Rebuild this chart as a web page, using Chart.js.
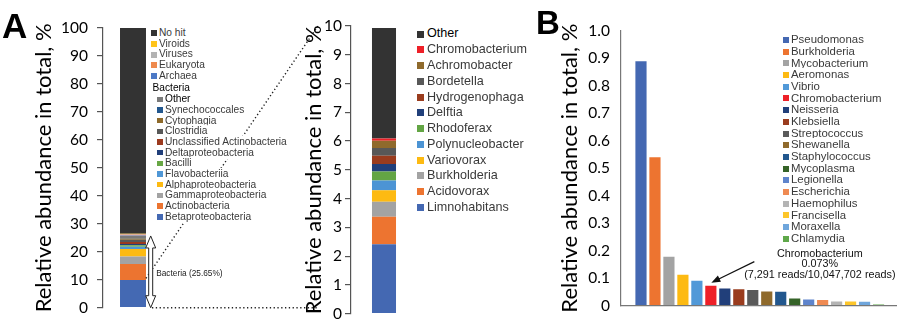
<!DOCTYPE html>
<html>
<head>
<meta charset="utf-8">
<script src="https://cdn.jsdelivr.net/npm/chart.js@4.4.1/dist/chart.umd.min.js"></script>
<style>
  body { margin: 0; background: #fff; }
  #wrap { position: relative; width: 900px; height: 326px; overflow: hidden; font-family: "Liberation Sans", Arial, sans-serif; }
  canvas { position: absolute; top: 0; }
  .letter { position: absolute; font-weight: bold; color: #000; line-height: 1; }
</style>
</head>
<body>
<div id="wrap">
  <canvas id="totalChart" width="330" height="326" style="left:0"></canvas>
  <canvas id="genusChart" width="140" height="326" style="left:280px"></canvas>
  <canvas id="pathogenChart" width="400" height="326" style="left:500px"></canvas>
  <div class="letter" style="left:2px;top:8px;font-size:35px">A</div>
  <div class="letter" style="left:536px;top:6px;font-size:33px">B</div>
</div>
<script>
// panel A, whole sample (stack order bottom -> top)
const bacteriaNames = ["Betaproteobacteria", "Actinobacteria", "Gammaproteobacteria", "Alphaproteobacteria",
  "Flavobacteriia", "Bacilli", "Deltaproteobacteria", "Unclassified Actinobacteria", "Clostridia",
  "Cytophagia", "Synechococcales", "Other"];
const bacteriaValues = [9.9, 5.7, 2.7, 2.65, 0.85, 0.55, 0.45, 0.7, 0.8, 0.4, 0.25, 0.7];
const bacteriaTotal = 25.65;
const kingdomNames = ["Archaea", "Eukaryota", "Viruses", "Viroids", "No hit"];
const kingdomValues = [0.15, 0.35, 0.2, 0.05, 73.6];
const totalTicks = [0, 10, 20, 30, 40, 50, 60, 70, 80, 90, 100];

// panel A, zoom 0-10 %
const genusNames = ["Limnohabitans", "Acidovorax", "Burkholderia", "Variovorax", "Polynucleobacter",
  "Rhodoferax", "Delftia", "Hydrogenophaga", "Bordetella", "Achromobacter", "Chromobacterium", "Other"];
const genusValues = [2.41, 0.96, 0.52, 0.40, 0.34, 0.31, 0.26, 0.29, 0.27, 0.25, 0.08, 3.84];
const genusTicks = [0, 1, 2, 3, 4, 5, 6, 7, 8, 9, 10];

// panel B
const pathogenNames = ["Pseudomonas", "Burkholderia", "Mycobacterium", "Aeromonas", "Vibrio", "Chromobacterium",
  "Neisseria", "Klebsiella", "Streptococcus", "Shewanella", "Staphylococcus", "Mycoplasma", "Legionella",
  "Escherichia", "Haemophilus", "Francisella", "Moraxella", "Chlamydia"];
const pathogenValues = [0.889, 0.540, 0.178, 0.113, 0.091, 0.073, 0.063, 0.060, 0.057, 0.052, 0.051,
  0.026, 0.023, 0.021, 0.015, 0.015, 0.014, 0.004];
const pathogenTickLabels = ["0", "0.1", "0.2", "0.3", "0.4", "0.5", "0.6", "0.7", "0.8", "0.9", "1.0"];
const noteLines = ["Chromobacterium", "0.073%", "(7,291 reads/10,047,702 reads)"];

// colours
const bacteriaColors = ["#4469B3", "#EC7430", "#A3A3A3", "#FDBA12", "#4F97D6", "#67A744", "#213F7A",
  "#9C3A1E", "#585858", "#8E6A2A", "#22578E", "#7A7A7A"];
const kingdomColors = ["#4C79C6", "#EE8A4E", "#B3B3B3", "#FFC41A", "#333333"];
const genusColors = ["#4468B2", "#ED7430", "#A3A3A3", "#FDBA12", "#4C94D4", "#63A544", "#213F7A",
  "#9A3C1E", "#585858", "#8F6A2C", "#EE2028", "#333333"];
const pathogenColors = ["#4468B2", "#ED7430", "#A3A3A3", "#FDBA12", "#5199D8", "#EE2028", "#213F7A",
  "#9A3C1E", "#5A5A5A", "#8F6A2C", "#22578E", "#356328", "#5E84CC", "#EF8A52", "#B4B4B4", "#FDC62A",
  "#6FA6DC", "#5FA84A"];

const AXIS_INK = "#555";
const TICK_FONT = { family: "Lato", size: 15.5 };
const TITLE_FONT = { family: "Lato", size: 22 };

function stackedSets(names, values, colors) {
  return names.map((name, i) => ({ label: name, data: [values[i]], backgroundColor: colors[i] }));
}

function leftAxis(tickValues, fmt, width, titlePad, labelPad, tickLen) {
  return {
    stacked: true,
    min: tickValues[0],
    max: tickValues[tickValues.length - 1],
    afterBuildTicks: (scale) => { scale.ticks = tickValues.map((v) => ({ value: v })); },
    afterFit: (scale) => { scale.width = width; },
    ticks: { font: TICK_FONT, color: "#000", padding: labelPad, callback: fmt, autoSkip: false },
    grid: { drawOnChartArea: false, drawTicks: tickLen > 0, tickLength: tickLen, color: AXIS_INK, lineWidth: 1.2 },
    border: { color: AXIS_INK, width: 1.2 },
    title: { display: true, text: "Relative abundance in total, %", font: TITLE_FONT, color: "#000", padding: { top: titlePad, bottom: 0 } },
  };
}

const bracketPlugin = {
  id: "bracket",
  afterDatasetsDraw(chart) {
    const ctx = chart.ctx;
    const y = chart.scales.y;
    const bar = chart.getDatasetMeta(0).data[0];
    const right = bar.x + bar.width / 2;
    const yTop = y.getPixelForValue(bacteriaTotal);
    const yBot = y.getPixelForValue(0);
    ctx.save();
    // dotted connectors to the zoomed bar
    ctx.setLineDash([1.3, 2.5]);
    ctx.lineWidth = 1.4;
    ctx.strokeStyle = "#222";
    ctx.beginPath();
    ctx.moveTo(right + 6, yBot);
    ctx.lineTo(318, yBot);
    ctx.stroke();
    ctx.beginPath();
    ctx.moveTo(right, y.getPixelForValue(10.5));
    ctx.lineTo(318, 26);
    ctx.stroke();
    ctx.setLineDash([]);
    // double-headed arrow
    const cx = right + 4.7, hw = 5, sw = 2, hl = 12;
    ctx.beginPath();
    ctx.moveTo(cx, yTop);
    ctx.lineTo(cx + hw, yTop + hl);
    ctx.lineTo(cx + sw, yTop + hl);
    ctx.lineTo(cx + sw, yBot - hl);
    ctx.lineTo(cx + hw, yBot - hl);
    ctx.lineTo(cx, yBot);
    ctx.lineTo(cx - hw, yBot - hl);
    ctx.lineTo(cx - sw, yBot - hl);
    ctx.lineTo(cx - sw, yTop + hl);
    ctx.lineTo(cx - hw, yTop + hl);
    ctx.closePath();
    ctx.fillStyle = "#fff";
    ctx.fill();
    ctx.lineWidth = 1;
    ctx.strokeStyle = "#222";
    ctx.stroke();
    ctx.fillStyle = "#222";
    ctx.font = '8.3px "Liberation Sans", Arial, sans-serif';
    ctx.textBaseline = "middle";
    ctx.fillText("Bacteria (" + bacteriaTotal + "%)", cx + 5.5, (yTop + yBot) / 2 + 2);
    ctx.restore();
  },
};

const notePlugin = {
  id: "note",
  afterDatasetsDraw(chart) {
    const ctx = chart.ctx;
    const idx = pathogenNames.indexOf("Chromobacterium");
    const bar = chart.getDatasetMeta(0).data[idx];
    const tipX = bar.x + 0.5, tipY = bar.y - 3;
    const tailX = tipX + 43, tailY = tipY - 21;
    const ang = Math.atan2(tipY - tailY, tipX - tailX);
    ctx.save();
    ctx.strokeStyle = "#111";
    ctx.fillStyle = "#111";
    ctx.lineWidth = 1.2;
    ctx.beginPath();
    ctx.moveTo(tailX, tailY);
    ctx.lineTo(tipX - 6 * Math.cos(ang), tipY - 6 * Math.sin(ang));
    ctx.stroke();
    ctx.beginPath();
    ctx.moveTo(tipX, tipY);
    ctx.lineTo(tipX - 9 * Math.cos(ang) + 3.5 * Math.sin(ang), tipY - 9 * Math.sin(ang) - 3.5 * Math.cos(ang));
    ctx.lineTo(tipX - 9 * Math.cos(ang) - 3.5 * Math.sin(ang), tipY - 9 * Math.sin(ang) + 3.5 * Math.cos(ang));
    ctx.closePath();
    ctx.fill();
    ctx.font = '10.8px "Liberation Sans", Arial, sans-serif';
    ctx.textAlign = "center";
    ctx.textBaseline = "middle";
    noteLines.forEach((line, i) => ctx.fillText(line, bar.x + 109, tailY - 8 + i * 10.5));
    ctx.restore();
  },
};

new Chart(document.getElementById("totalChart"), {
  type: "bar",
  data: {
    labels: [""],
    datasets: stackedSets(bacteriaNames, bacteriaValues, bacteriaColors)
      .concat(stackedSets(kingdomNames, kingdomValues, kingdomColors)),
  },
  options: {
    responsive: false,
    animation: false,
    layout: { padding: { top: 28, bottom: 10, left: 0, right: 167 } },
    plugins: { legend: { display: false }, tooltip: { enabled: false } },
    datasets: { bar: { barPercentage: 0.433, categoryPercentage: 1 } },
    scales: {
      x: { stacked: true, display: false },
      y: leftAxis(totalTicks, (v) => v, 103, 30.8, 9, 6),
    },
  },
  plugins: [bracketPlugin],
});

new Chart(document.getElementById("genusChart"), {
  type: "bar",
  data: { labels: [""], datasets: stackedSets(genusNames, genusValues, genusColors) },
  options: {
    responsive: false,
    animation: false,
    layout: { padding: { top: 26, bottom: 10, left: 0, right: 3 } },
    plugins: { legend: { display: false }, tooltip: { enabled: false } },
    datasets: { bar: { barPercentage: 0.364, categoryPercentage: 1 } },
    scales: {
      x: { stacked: true, display: false },
      y: leftAxis(genusTicks, (v) => v, 71, 20.3, 3, 6),
    },
  },
});

const pathogenAxis = leftAxis(pathogenTickLabels.map(Number), (v, i) => pathogenTickLabels[i], 121, 56.8, 11, 0);
pathogenAxis.stacked = false;
pathogenAxis.border.color = "#777";

const pathogenChart = new Chart(document.getElementById("pathogenChart"), {
  type: "bar",
  data: {
    datasets: [{
      data: pathogenValues.map((v, i) => ({ x: i, y: v })),
      backgroundColor: pathogenColors,
    }],
  },
  options: {
    responsive: false,
    animation: false,
    layout: { padding: { top: 30.7, bottom: 6.7, left: 0, right: 4 } },
    plugins: { legend: { display: false }, tooltip: { enabled: false } },
    datasets: { bar: { barPercentage: 0.8, categoryPercentage: 1 } },
    scales: {
      x: {
        type: "linear", min: -1.43, max: 18.25, offset: false, bounds: "data",
        ticks: { display: false },
        grid: { display: false, drawTicks: false, offset: false },
        border: { display: true, color: "#777", width: 1.2 },
      },
      y: pathogenAxis,
    },
  },
  plugins: [notePlugin],
});

// html legends (text boxes are white, so the dotted connector passes behind them)
function addLegend(rows, cfg) {
  const wrap = document.getElementById("wrap");
  rows.forEach((row, i) => {
    const cy = cfg.top + i * cfg.step;
    const t = document.createElement("div");
    t.textContent = row.label;
    t.style.cssText = `position:absolute;left:${row.x !== undefined ? row.x : cfg.textX}px;` +
      `top:${cy - cfg.font * 0.6}px;font-size:${cfg.font}px;line-height:${cfg.font * 1.2}px;` +
      `color:${row.ink || "#3a3a3a"};white-space:nowrap;background:#fff`;
    wrap.appendChild(t);
    if (row.color) {
      const sw = document.createElement("div");
      sw.style.cssText = `position:absolute;left:${cfg.swatchX}px;top:${cy - cfg.swatch / 2}px;` +
        `width:${cfg.swatch}px;height:${cfg.swatch}px;background:${row.color}`;
      wrap.appendChild(sw);
    }
  });
}

const rev = (names, colors) => names.map((n, i) => ({ label: n, color: colors[i] })).reverse();

addLegend(rev(kingdomNames, kingdomColors), { top: 33.3, step: 10.6, swatchX: 151, swatch: 6, textX: 159, font: 10.2 });
addLegend([{ label: "Bacteria", ink: "#000" }], { top: 88.3, step: 0, swatchX: 0, swatch: 0, textX: 152.5, font: 10.2 });
const bacteriaRows = rev(bacteriaNames, bacteriaColors);
bacteriaRows[0].ink = "#000";
addLegend(bacteriaRows, { top: 99.3, step: 10.68, swatchX: 157, swatch: 5.5, textX: 165, font: 10.2 });

const genusRows = rev(genusNames, genusColors);
genusRows[0].ink = "#000";
addLegend(genusRows, { top: 34, step: 15.77, swatchX: 417, swatch: 7, textX: 427, font: 12.6 });

addLegend(pathogenNames.map((n, i) => ({ label: n, color: pathogenColors[i] })),
  { top: 40, step: 11.69, swatchX: 782.5, swatch: 6, textX: 791, font: 11.4 });
</script>
</body>
</html>
